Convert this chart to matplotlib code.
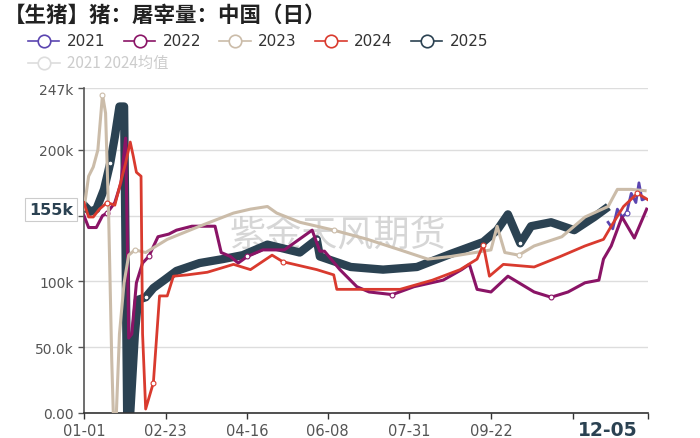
import matplotlib
matplotlib.use("Agg")
import matplotlib.pyplot as plt
from matplotlib.lines import Line2D

plt.rcParams['font.family'] = ['Noto Sans CJK SC', 'DejaVu Sans']

# 各年份日度屠宰量 (day of year, 头)
d2021 = [340, 343, 346, 349, 352, 355, 358, 360, 362, 364]
v2021 = [145e3, 140e3, 155e3, 149e3, 152e3, 167e3, 160e3, 175e3, 162e3, 163e3]

d2022 = [0, 3, 8, 12, 15, 20, 24, 27, 28, 29, 31, 34, 38, 42, 48, 55, 60, 70, 85, 89, 95,
         100, 106, 116, 130, 148, 153, 156, 166, 177, 185, 200, 214, 233, 245, 250, 255,
         264, 275, 292, 303, 314, 325, 334, 337, 342, 349, 357, 365]
v2022 = [150e3, 141e3, 141e3, 150e3, 152e3, 160e3, 175e3, 209e3, 140e3, 57e3, 60e3, 99e3,
         114e3, 119e3, 134e3, 136e3, 139e3, 142e3, 142e3, 122e3, 119e3, 114e3, 119e3,
         124e3, 124e3, 139e3, 123e3, 123e3, 109e3, 96e3, 92e3, 90e3, 96e3, 101e3, 109e3,
         113e3, 94e3, 92e3, 104e3, 92e3, 88e3, 92e3, 99e3, 101e3, 117e3, 127e3, 149e3,
         133e3, 155e3]

d2023 = [0, 3, 6, 9, 12, 14, 16, 18, 19, 21, 23, 26, 29, 33, 40, 54, 75, 97, 108, 119,
         125, 140, 162, 184, 205, 223, 238, 259, 264, 268, 273, 282, 292, 310, 325, 340,
         346, 355, 364]
v2023 = [155e3, 180e3, 187e3, 200e3, 242e3, 228e3, 150e3, 40e3, 0, 0, 60e3, 99e3,
         120e3, 124e3, 122e3, 132e3, 142e3, 152e3, 155e3, 157e3, 152e3, 145e3, 139e3,
         132e3, 124e3, 117e3, 119e3, 123e3, 124e3, 142e3, 122e3, 120e3, 127e3, 134e3,
         149e3, 157e3, 170e3, 170e3, 169e3]

d2024 = [0, 3, 6, 10, 15, 20, 27, 30, 32, 34, 37, 38, 40, 45, 49, 54, 58, 67, 80, 97,
         108, 122, 129, 151, 162, 164, 172, 205, 226, 244, 255, 259, 263, 272, 292, 309,
         325, 337, 342, 350, 359, 366]
v2024 = [160e3, 149e3, 149e3, 155e3, 160e3, 158e3, 190e3, 206e3, 195e3, 183e3, 180e3,
         60e3, 3e3, 23e3, 89e3, 89e3, 104e3, 105e3, 107e3, 113e3, 109e3, 120e3, 115e3,
         109e3, 105e3, 94e3, 94e3, 94e3, 101e3, 109e3, 117e3, 128e3, 104e3, 113e3,
         111e3, 119e3, 127e3, 132e3, 142e3, 157e3, 167e3, 162e3]

d2025 = [0, 4, 8, 13, 17, 20, 23, 26, 27, 28, 30, 33, 35, 40, 45, 52, 60, 75, 90, 103,
         119, 140, 151, 153, 173, 194, 216, 238, 259, 268, 275, 283, 290, 303, 318, 331,
         338]
v2025 = [158e3, 153e3, 155e3, 170e3, 190e3, 210e3, 233e3, 233e3, 120e3, 0, 0, 60e3,
         86e3, 88e3, 95e3, 101e3, 108e3, 114e3, 117e3, 120e3, 128e3, 122e3, 132e3,
         119e3, 111e3, 109e3, 111e3, 121e3, 130e3, 139e3, 151e3, 129e3, 142e3, 145e3,
         139e3, 149e3, 155e3]

xtick_days = [0, 53, 106, 158, 211, 264]
xtick_labels = ['01-01', '02-23', '04-16', '06-08', '07-31', '09-22']
ytick_vals = [0, 50000, 100000, 150000, 200000, 247000]
ytick_labels = ['0.00', '50.0k', '100k', '', '200k', '247k']

series = [
    ('2021', d2021, v2021, '#5b45b0', 2.0),
    ('2022', d2022, v2022, '#8a1466', 2.2),
    ('2023', d2023, v2023, '#cbbca9', 2.2),
    ('2024', d2024, v2024, '#d93a2e', 2.0),
    ('2025', d2025, v2025, '#2b4252', 6.0),
]

fig = plt.figure(figsize=(7, 4.39), dpi=100)
ax = fig.add_axes([0.12, 0.057, 0.806, 0.74])

for name, d, v, c, lw in series:
    ax.plot(d, v, color=c, lw=lw, solid_joinstyle='round', zorder=3 if name != '2025' else 2,
            marker='o', markersize=3.5, markerfacecolor='white', markeredgecolor=c,
            markeredgewidth=0.8, markevery=(4, 9))

ax.set_xlim(0, 366)
ax.set_ylim(0, 247000)
ax.set_xticks(xtick_days + [317, 366])
ax.set_xticklabels(xtick_labels + ['', ''])
ax.set_yticks(ytick_vals)
ax.set_yticklabels(ytick_labels)
ax.tick_params(colors='#555555', labelsize=10, length=4, width=1)
ax.tick_params(axis='x', colors='#333333', labelcolor='#555555', labelsize=10.5)
for t in ax.get_xticklabels() + ax.get_yticklabels():
    t.set_family('DejaVu Sans')
ax.grid(axis='y', color='#dddddd', lw=1)
ax.set_axisbelow(True)
for s in ['top', 'right']:
    ax.spines[s].set_visible(False)
ax.spines['left'].set_color('#555555')
ax.spines['bottom'].set_color('#333333')
ax.spines['left'].set_linewidth(1.2)
ax.spines['bottom'].set_linewidth(1.2)

# 水印
ax.text(0.45, 0.545, '紫金天风期货', transform=ax.transAxes, fontsize=26,
        color='#bbbbbb', alpha=0.6, ha='center', va='center', zorder=1)

# 指示标签
ax.annotate('155k', xy=(0, 155000), xycoords=('axes fraction', 'data'),
            xytext=(-8, 0), textcoords='offset points', ha='right', va='center',
            fontsize=11.5, fontweight='bold', color='#2b4252', family='DejaVu Sans',
            bbox=dict(boxstyle='square,pad=0.25', fc='white', ec='#cccccc', lw=0.8),
            annotation_clip=False)
ax.text(340, -5000, '12-05', ha='center', va='top', fontsize=13.5, fontweight='bold',
        color='#2b4252', family='DejaVu Sans')

fig.text(0.005, 0.965, '【生猪】猪：屠宰量：中国（日）', fontsize=15.5, fontweight='bold',
         color='#222222', va='center')

# 图例
leg_x = [0.04, 0.177, 0.313, 0.45, 0.587]
for (name, d, v, c, lw), x in zip(series, leg_x):
    fig.add_artist(Line2D([x, x + 0.045], [0.905, 0.905], color=c, lw=1.2,
                          transform=fig.transFigure))
    fig.add_artist(Line2D([x + 0.0225], [0.905], marker='o', markersize=9,
                          markerfacecolor='white', markeredgecolor=c, mew=1.2,
                          transform=fig.transFigure))
    fig.text(x + 0.056, 0.905, name, fontsize=11, color='#333333', va='center',
             family='DejaVu Sans')
fig.add_artist(Line2D([0.04, 0.085], [0.855, 0.855], color='#dddddd', lw=1.2,
                      transform=fig.transFigure))
fig.add_artist(Line2D([0.0625], [0.855], marker='o', markersize=9,
                      markerfacecolor='white', markeredgecolor='#dddddd', mew=1.2,
                      transform=fig.transFigure))
fig.text(0.096, 0.855, '2021 2024均值', fontsize=11, color='#cccccc', va='center')

fig.savefig('out.png', dpi=100)
